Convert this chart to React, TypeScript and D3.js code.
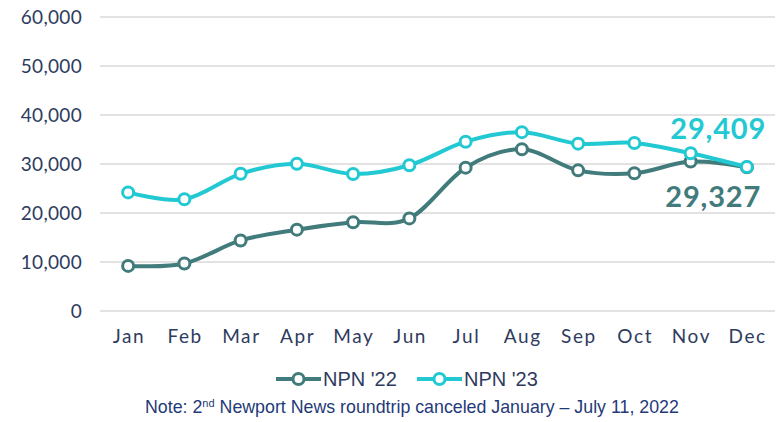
import React from "react";
import * as d3 from "d3";

const months = ["Jan", "Feb", "Mar", "Apr", "May", "Jun", "Jul", "Aug", "Sep", "Oct", "Nov", "Dec"];
const npn22 = [9200, 9700, 14400, 16600, 18100, 18900, 29250, 33000, 28700, 28100, 30500, 29327];
const npn23 = [24200, 22800, 28000, 30050, 27950, 29750, 34550, 36500, 34150, 34300, 32200, 29409];
const yTicks = [0, 10000, 20000, 30000, 40000, 50000, 60000];
const seriesNames = ["NPN '22", "NPN '23"];
const endLabels = ["29,327", "29,409"];
const note = "Newport News roundtrip canceled January \u2013 July 11, 2022";

const W = 784;
const H = 422;
const C22 = "#427B7B";
const C23 = "#22C9D3";
const AXIS_TEXT = "#2E3B5E";
const NOTE_TEXT = "#1F3A78";
const FONT = "Lato, 'Open Sans', sans-serif";
const ARIAL = "'Liberation Sans', Arial, sans-serif";

export default function App() {
  const x = d3.scaleBand<string>().domain(months).range([100, 775]);
  const y = d3.scaleLinear().domain([0, 60000]).range([311, 17]);
  const cx = (m: string) => (x(m) as number) + x.bandwidth() / 2;
  const line = d3
    .line<number>()
    .x((_, i) => cx(months[i]))
    .y((d) => y(d))
    .curve(d3.curveCardinal.tension(0));
  const fmt = d3.format(",");
  const series = [
    { name: seriesNames[0], data: npn22, color: C22 },
    { name: seriesNames[1], data: npn23, color: C23 },
  ];

  return (
    <svg width={W} height={H} style={{ position: "absolute", left: 0, top: 0 }}>
      <rect width={W} height={H} fill="#fff" />
      {yTicks.map((t) => (
        <g key={t}>
          <line x1={100} x2={775} y1={y(t)} y2={y(t)} stroke="#D9D9D9" strokeWidth={1.5} />
          <text x={82} y={y(t)} dy="0.36em" textAnchor="end" fontFamily={FONT} fontSize={19} fill={AXIS_TEXT} letterSpacing={0.3}>
            {fmt(t)}
          </text>
        </g>
      ))}
      {months.map((m) => (
        <text key={m} x={cx(m)} dx={0.8} y={343} textAnchor="middle" fontFamily={FONT} fontSize={19} fill={AXIS_TEXT} letterSpacing={1.6}>
          {m}
        </text>
      ))}
      {series.map((s) => (
        <g key={s.name}>
          <path d={line(s.data) || ""} fill="none" stroke={s.color} strokeWidth={4} strokeLinejoin="round" />
          {s.data.map((v, i) => (
            <circle key={i} cx={cx(months[i])} cy={y(v)} r={5.5} fill="#fff" stroke={s.color} strokeWidth={3} />
          ))}
        </g>
      ))}
      <text x={766} y={139} textAnchor="end" fontFamily={FONT} fontWeight="bold" fontSize={29} fill={C23} letterSpacing={0.8}>
        {endLabels[1]}
      </text>
      <text x={761} y={207} textAnchor="end" fontFamily={FONT} fontWeight="bold" fontSize={29} fill={C22} letterSpacing={0.8}>
        {endLabels[0]}
      </text>
      {series.map((s, i) => {
        const x0 = i === 0 ? 276 : 417;
        return (
          <g key={"lg" + s.name}>
            <line x1={x0} x2={x0 + 45} y1={379} y2={379} stroke={s.color} strokeWidth={4} />
            <circle cx={x0 + 22.5} cy={379} r={5.5} fill="#fff" stroke={s.color} strokeWidth={3} />
            <text x={x0 + 47} y={386} fontFamily={ARIAL} fontSize={20} fill={AXIS_TEXT}>
              {s.name}
            </text>
          </g>
        );
      })}
      <text x={145} y={413} fontFamily={ARIAL} fontSize={17.8} fill={NOTE_TEXT}>
        Note: 2<tspan fontSize={11} dy={-6.5}>nd</tspan>
        <tspan dy={6.5}> {note}</tspan>
      </text>
    </svg>
  );
}
